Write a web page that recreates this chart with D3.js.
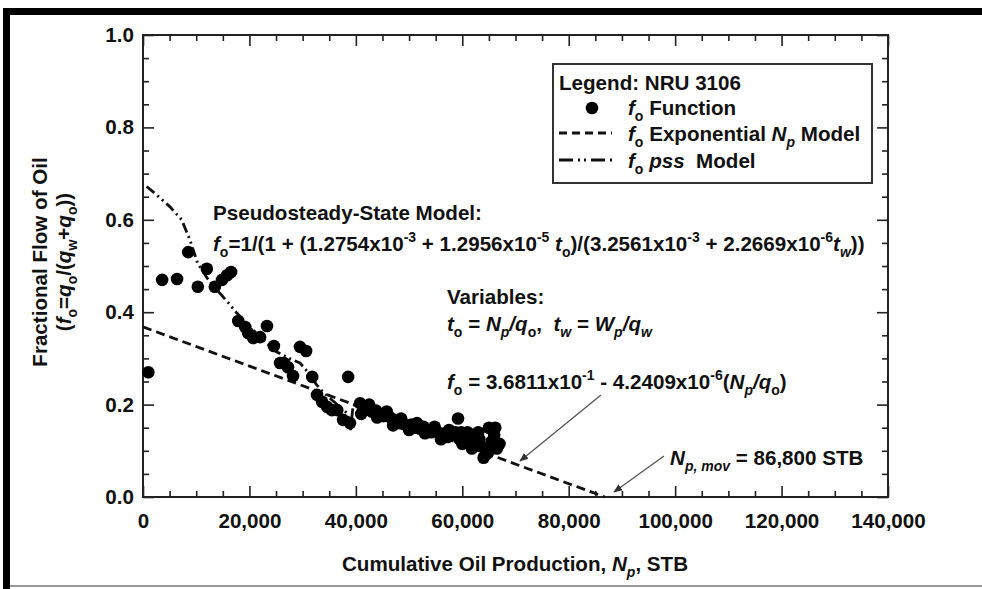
<!DOCTYPE html>
<html>
<head>
<meta charset="utf-8">
<script src="https://cdn.jsdelivr.net/npm/d3@7"></script>
<style>
  html, body { margin: 0; padding: 0; background: #fff; }
  svg { display: block; }
  text { font-family: "Liberation Sans", Arial, Helvetica, sans-serif; font-weight: bold; fill: #111; white-space: pre; }
</style>
</head>
<body>
<svg id="chart" width="982" height="589"></svg>
<script>
// ---------------- DATA ----------------
const pointNp = [1000, 3600, 6400, 8500, 10300, 12000, 13500, 14850, 15800, 16550,
  17900, 19200, 19750, 20700, 22000, 23300, 24600, 25750, 26500, 27250, 28200, 29500, 30650, 31800,
  32700, 33650, 34600, 35500, 36500, 37600, 38550, 38900, 40800,
  41500, 42300, 43000, 43800, 44500, 45200, 46000, 46700, 47500, 48200, 49000, 49800, 50500,
  51200, 52000, 52700, 53500, 54200, 55000, 55800, 56500, 57200, 58000, 58700, 59200, 59500,
  60000, 60500, 61200, 61800, 62500, 63000, 63500, 64000, 64500, 65000, 65500, 66000, 66500, 67000,
  41000, 42500, 44000, 45800, 47000, 48500, 50000, 51500, 53000, 54800, 56000, 57500, 59800,
  61000, 62000, 63200, 64800, 66200];
const pointFo = [0.27, 0.47, 0.472, 0.53, 0.455, 0.494, 0.455, 0.47, 0.48, 0.487,
  0.381, 0.368, 0.355, 0.344, 0.346, 0.37, 0.327, 0.29, 0.29, 0.281, 0.262, 0.325, 0.316, 0.26,
  0.221, 0.206, 0.195, 0.188, 0.188, 0.167, 0.26, 0.16, 0.203,
  0.195, 0.19, 0.185, 0.187, 0.18, 0.175, 0.178, 0.17, 0.165, 0.16, 0.158, 0.155, 0.157,
  0.15, 0.148, 0.152, 0.145, 0.14, 0.143, 0.138, 0.132, 0.13, 0.135, 0.14, 0.17, 0.125,
  0.115, 0.13, 0.12, 0.105, 0.125, 0.14, 0.11, 0.085, 0.1, 0.15, 0.12, 0.135, 0.105, 0.115,
  0.18, 0.2, 0.172, 0.185, 0.155, 0.17, 0.145, 0.16, 0.138, 0.152, 0.125, 0.145, 0.14,
  0.14, 0.115, 0.125, 0.095, 0.15];

const expNp = [0, 86800];
const expFo = [0.36811, 0];

const pssNp = [690, 2570, 5075, 7270, 8830, 10300, 12000, 13900, 16350, 17500, 20000, 22500, 25000,
  27500, 29500, 31000, 32500, 34000, 35500, 37000, 38500, 39000, 39500, 41000, 43000, 45000, 47000,
  49000, 51000, 53000, 55000, 57000, 59000, 61000, 63000, 65000, 67000];
const pssFo = [0.672, 0.654, 0.628, 0.600, 0.556, 0.505, 0.475, 0.448, 0.416, 0.400, 0.37, 0.34, 0.315,
  0.30, 0.29, 0.27, 0.245, 0.225, 0.21, 0.195, 0.18, 0.145, 0.2, 0.192, 0.185, 0.175, 0.165,
  0.158, 0.15, 0.145, 0.14, 0.132, 0.128, 0.12, 0.118, 0.112, 0.11];

const xMajorTicks = [0, 20000, 40000, 60000, 80000, 100000, 120000, 140000];
const yMajorTicks = [0, 0.2, 0.4, 0.6, 0.8, 1.0];

// ---------------- CHART ----------------
const svg = d3.select("#chart");
const x = d3.scaleLinear().domain([0, 140000]).range([143, 888]);
const y = d3.scaleLinear().domain([0, 1]).range([497, 35]);
const FS = 20.6;

// outer page frame
svg.append("rect").attr("x", 3).attr("y", 8).attr("width", 979).attr("height", 7).attr("fill", "#000");
svg.append("rect").attr("x", 3).attr("y", 8).attr("width", 7).attr("height", 581).attr("fill", "#000");
svg.append("rect").attr("x", 10).attr("y", 585).attr("width", 972).attr("height", 2).attr("fill", "#999");

const xMinor = d3.range(0, 140001, 5000).filter(v => v % 20000 !== 0);
const yMinor = d3.range(0, 21).map(i => i * 0.05).filter((v, i) => i % 4 !== 0);

function styleAxis(g) {
  g.select(".domain").remove();
  g.selectAll(".tick line").attr("stroke", "#222").attr("stroke-width", 1.6);
}

// bottom
svg.append("g").attr("transform", `translate(0,${y(0)})`)
  .call(d3.axisBottom(x).tickValues(xMajorTicks).tickSizeInner(-11).tickSizeOuter(0).tickPadding(16)
    .tickFormat(d3.format(",")))
  .call(styleAxis)
  .selectAll("text").style("font-size", FS + "px").attr("fill", "#111");
svg.append("g").attr("transform", `translate(0,${y(0)})`)
  .call(d3.axisBottom(x).tickValues(xMinor).tickSizeInner(-6).tickSizeOuter(0).tickFormat(""))
  .call(styleAxis);
// top
svg.append("g").attr("transform", `translate(0,${y(1)})`)
  .call(d3.axisTop(x).tickValues(xMajorTicks).tickSizeInner(-11).tickSizeOuter(0).tickFormat(""))
  .call(styleAxis);
svg.append("g").attr("transform", `translate(0,${y(1)})`)
  .call(d3.axisTop(x).tickValues(xMinor).tickSizeInner(-6).tickSizeOuter(0).tickFormat(""))
  .call(styleAxis);
// left
svg.append("g").attr("transform", `translate(${x(0)},0)`)
  .call(d3.axisLeft(y).tickValues(yMajorTicks).tickSizeInner(-11).tickSizeOuter(0).tickPadding(9)
    .tickFormat(d3.format(".1f")))
  .call(styleAxis)
  .selectAll("text").style("font-size", FS + "px").attr("fill", "#111");
svg.append("g").attr("transform", `translate(${x(0)},0)`)
  .call(d3.axisLeft(y).tickValues(yMinor).tickSizeInner(-6).tickSizeOuter(0).tickFormat(""))
  .call(styleAxis);
// right
svg.append("g").attr("transform", `translate(${x(140000)},0)`)
  .call(d3.axisRight(y).tickValues(yMajorTicks).tickSizeInner(-11).tickSizeOuter(0).tickFormat(""))
  .call(styleAxis);
svg.append("g").attr("transform", `translate(${x(140000)},0)`)
  .call(d3.axisRight(y).tickValues(yMinor).tickSizeInner(-6).tickSizeOuter(0).tickFormat(""))
  .call(styleAxis);

// plot frame
svg.append("rect").attr("x", x(0)).attr("y", y(1)).attr("width", x(140000) - x(0)).attr("height", y(0) - y(1))
  .attr("fill", "none").attr("stroke", "#222").attr("stroke-width", 2);

// lines
const line = d3.line().x(d => x(d[0])).y(d => y(d[1]));
svg.append("path").datum(expNp.map((v, i) => [v, expFo[i]])).attr("d", line)
  .attr("fill", "none").attr("stroke", "#111").attr("stroke-width", 2.8).attr("stroke-dasharray", "9,5");
svg.append("path").datum(pssNp.map((v, i) => [v, pssFo[i]])).attr("d", line)
  .attr("fill", "none").attr("stroke", "#111").attr("stroke-width", 2.8).attr("stroke-dasharray", "10,4,2,4,2,4");

// points
svg.append("g").selectAll("circle").data(pointNp.map((v, i) => [v, pointFo[i]])).join("circle")
  .attr("cx", d => x(d[0])).attr("cy", d => y(d[1])).attr("r", 6.3).attr("fill", "#000");

// rich text helper: segments [text, flags] flags: i=italic, b=sub, p=sup
function rich(parent, px, py, segs, size, anchor) {
  const t = parent.append("text").attr("x", px).attr("y", py).style("font-size", size + "px");
  if (anchor) t.attr("text-anchor", anchor);
  let shift = 0;
  segs.forEach(s => {
    const [str, f = ""] = s;
    const sp = t.append("tspan").text(str);
    let target = 0, fs = size;
    if (f.includes("b")) { target = size * 0.3; fs = size * 0.68; }
    if (f.includes("p")) { target = -size * 0.42; fs = size * 0.68; }
    sp.attr("dy", target - shift).style("font-size", fs + "px");
    shift = target;
    if (f.includes("i")) sp.style("font-style", "italic");
  });
  return t;
}

rich(svg, 213, 220, [["Pseudosteady-State Model:"]], FS);
rich(svg, 213, 251, [["f", "i"], ["o", "b"], ["=1/(1 + (1.2754x10"], ["-3", "p"], [" + 1.2956x10"], ["-5", "p"],
  [" t", "i"], ["o", "b"], [")/(3.2561x10"], ["-3", "p"], [" + 2.2669x10"], ["-6", "p"], ["t", "i"], ["w", "ib"], ["))"]], FS);
rich(svg, 447, 304, [["Variables:"]], FS);
rich(svg, 447, 331, [["t", "i"], ["o", "b"], [" = "], ["N", "i"], ["p", "ib"], ["/", "i"], ["q", "i"], ["o", "b"], [",  "],
  ["t", "i"], ["w", "ib"], [" = "], ["W", "i"], ["p", "ib"], ["/", "i"], ["q", "i"], ["w", "ib"]], FS);
rich(svg, 447, 389, [["f", "i"], ["o", "b"], [" = 3.6811x10"], ["-1", "p"], [" - 4.2409x10"], ["-6", "p"], ["("], ["N", "i"], ["p", "ib"],
  ["/", "i"], ["q", "i"], ["o", "b"], [")"]], FS);
rich(svg, 670, 465, [["N", "i"], ["p, mov", "ib"], [" = 86,800 STB"]], FS);

// arrows
const defs = svg.append("defs");
defs.append("marker").attr("id", "ah").attr("viewBox", "0 0 10 10").attr("refX", 9).attr("refY", 5)
  .attr("markerWidth", 9).attr("markerHeight", 9).attr("orient", "auto").attr("markerUnits", "userSpaceOnUse")
  .append("path").attr("d", "M0,1 L10,5 L0,9 Z").attr("fill", "#333");
svg.append("line").attr("x1", 601).attr("y1", 395).attr("x2", 520).attr("y2", 461)
  .attr("stroke", "#555").attr("stroke-width", 1.3).attr("marker-end", "url(#ah)");
svg.append("line").attr("x1", 664).attr("y1", 456).attr("x2", 614).attr("y2", 492)
  .attr("stroke", "#555").attr("stroke-width", 1.3).attr("marker-end", "url(#ah)");

// legend
const lg = svg.append("g");
lg.append("rect").attr("x", 553).attr("y", 64).attr("width", 319).attr("height", 119)
  .attr("fill", "#fff").attr("stroke", "#333").attr("stroke-width", 2);
rich(lg, 559, 90, [["Legend: NRU 3106"]], FS);
lg.append("circle").attr("cx", 592).attr("cy", 108).attr("r", 6.3).attr("fill", "#000");
rich(lg, 628, 115, [["f", "i"], ["o", "b"], [" Function"]], FS);
lg.append("line").attr("x1", 559).attr("x2", 612).attr("y1", 133).attr("y2", 133)
  .attr("stroke", "#111").attr("stroke-width", 2.8).attr("stroke-dasharray", "8,5");
rich(lg, 628, 141, [["f", "i"], ["o", "b"], [" Exponential "], ["N", "i"], ["p", "ib"], [" Model"]], FS);
lg.append("line").attr("x1", 559).attr("x2", 614).attr("y1", 160).attr("y2", 160)
  .attr("stroke", "#111").attr("stroke-width", 2.8).attr("stroke-dasharray", "14,5,2,4,2,5");
rich(lg, 628, 168, [["f", "i"], ["o", "b"], [" "], ["pss", "i"], ["  Model"]], FS);

// axis titles
rich(svg, 515, 571, [["Cumulative Oil Production, "], ["N", "i"], ["p", "ib"], [", STB"]], FS, "middle");
const yt = svg.append("g").attr("transform", "translate(47,262) rotate(-90)");
rich(yt, 0, 0, [["Fractional Flow of Oil"]], FS, "middle");
rich(yt, 0, 24, [["("], ["f", "i"], ["o", "b"], ["=", ""], ["q", "i"], ["o", "b"], ["/("], ["q", "i"], ["w", "b"], ["+"], ["q", "i"], ["o", "b"], ["))"]], FS, "middle");
</script>
</body>
</html>
